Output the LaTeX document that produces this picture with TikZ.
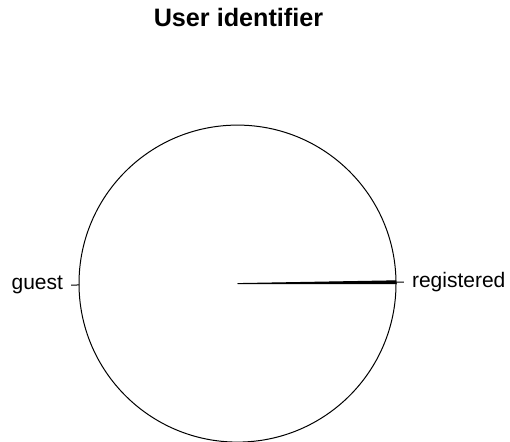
\documentclass[tikz,border=0pt]{standalone}
\usepackage{fontspec}
\setmainfont{Liberation Sans}
\usetikzlibrary{calc}
\begin{document}
\begin{tikzpicture}[x=1pt,y=1pt,
  pieline/.style={line width=1pt,black},
  slicelabel/.style={inner sep=0pt,font=\fontsize{21}{24}\selectfont},
  charttitle/.style={inner sep=0pt,anchor=base,font=\fontsize{25.2}{29}\selectfont\bfseries}]
  \useasboundingbox (0,0) rectangle (510,441);
  % pie centre and radius
  \def\rad{158.5}
  \def\slice{1.0}
  \coordinate (c) at (237.5,157.4);
  % title
  \node[charttitle] (title) at (238.5,414) {User identifier};
  % whole circle (guest)
  \draw[pieline] (c) circle (\rad);
  % thin slice (registered), from 0 to \slice degrees
  \draw[pieline,fill=black] (c) -- ($(c)+(0:\rad)$) arc (0:\slice:\rad) -- cycle;
  % label ticks
  \coordinate (regin) at ($(c)+(\slice/2:\rad)$);
  \coordinate (regout) at ($(c)+(\slice/2:1.05*\rad)$);
  \coordinate (guestin) at ($(c)+(180+\slice/2:\rad)$);
  \coordinate (guestout) at ($(c)+(180+\slice/2:1.05*\rad)$);
  \draw[pieline] (regin) -- (regout);
  \draw[pieline] (guestin) -- (guestout);
  % slice labels
  \node[slicelabel,anchor=west] (reg) at ($(c)+(\slice/2:1.1*\rad)$) {registered};
  \node[slicelabel,anchor=east] (guest) at ($(c)+(180+\slice/2:1.1*\rad)$) {guest};
\end{tikzpicture}
\end{document}
